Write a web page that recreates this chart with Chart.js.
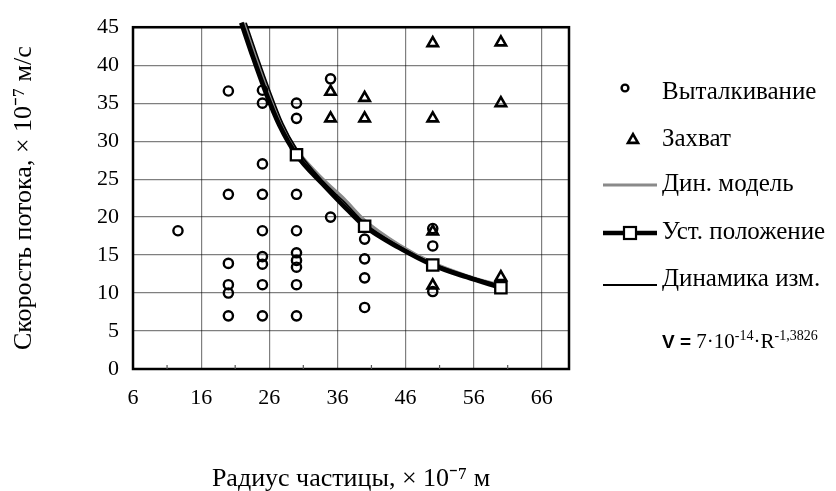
<!DOCTYPE html>
<html><head><meta charset="utf-8">
<script src="https://cdn.jsdelivr.net/npm/chart.js@4/dist/chart.umd.min.js"></script>
<style>html,body{margin:0;padding:0;background:#fff}#wrap{width:836px;height:491px}</style>
</head><body><div id="wrap"><canvas id="c" width="836" height="491"></canvas></div>
<script>
// ---- axis ticks ----
const xTicks = [6, 16, 26, 36, 46, 56, 66];
const xMinorTicks = [11, 21, 31, 41, 51, 61];
const yTicks = [0, 5, 10, 15, 20, 25, 30, 35, 40, 45];

// ---- Выталкивание (circles) ----
const pushX = [12.6, 20, 20, 20, 20, 20, 20, 25, 25, 25, 25, 25, 25, 25, 25, 25, 30, 30, 30, 30, 30, 30, 30, 30, 30, 35, 35, 40, 40, 40, 40, 50, 50, 50];
const pushY = [18.2, 36.6, 23.0, 13.9, 11.1, 10.0, 7.0, 36.7, 35.0, 27.0, 23.0, 18.2, 14.8, 13.8, 11.1, 7.0, 35.0, 33.0, 23.0, 18.2, 15.3, 14.3, 13.4, 11.1, 7.0, 38.2, 20.0, 17.1, 14.5, 12.0, 8.1, 18.5, 16.2, 10.2];

// ---- Захват (triangles) ----
const captX = [35, 35, 40, 40, 50, 50, 50, 50, 60, 60, 60];
const captY = [36.5, 33.0, 35.7, 33.0, 42.9, 33.0, 18.1, 11.0, 43.0, 35.0, 12.1];

// ---- Уст. положение (thick line with squares) ----
const steadyX = [21.9, 23.6, 25.5, 27.5, 30, 33.8, 36.8, 40, 45, 50, 55, 60];
const steadyY = [45.6, 41.1, 36.4, 32.1, 28.2, 24.4, 21.6, 18.8, 16.0, 13.7, 12.1, 10.7];
const steadyMarked = [0, 0, 0, 0, 1, 0, 0, 1, 0, 1, 0, 1];

// ---- Дин. модель (grey line) ----
const modelX = [22.3, 24.0, 25.8, 27.8, 30, 34, 37, 40, 45, 50, 55, 60];
const modelY = [45.6, 41.1, 36.6, 32.3, 28.9, 24.9, 22.4, 19.6, 16.4, 14.0, 12.3, 11.0];

// ---- Динамика изм. (thin black line) ----
const measX = [22.6, 24.3, 26.1, 28.0, 30, 34, 37, 40, 45, 50, 55, 60];
const measY = [45.6, 41.1, 36.6, 32.3, 29.0, 24.6, 22.0, 19.2, 16.2, 13.9, 12.3, 11.0];

const labels = ['Выталкивание', 'Захват', 'Дин. модель', 'Уст. положение', 'Динамика изм.'];
const yTitle = 'Скорость потока, × 10\u207B\u2077 м/с';
const xTitle = 'Радиус частицы, × 10\u207B\u2077 м';
const formula = ['V = ', '7·10', '-14', '·R', '-1,3826'];

const pts = (xs, ys) => xs.map((x, i) => ({x: x, y: ys[i]}));
const SERIF = '"Liberation Serif", "Times New Roman", serif';

const framePlugin = {
  id: 'frame',
  beforeDatasetsDraw(chart) {
    const {ctx, chartArea: a, scales} = chart;
    ctx.save();
    ctx.strokeStyle = '#000';
    ctx.lineWidth = 2.5;
    ctx.strokeRect(a.left, a.top, a.right - a.left, a.bottom - a.top);
    ctx.lineWidth = 1.2;
    ctx.strokeStyle = '#555';
    xMinorTicks.forEach(v => {
      const px = scales.x.getPixelForValue(v);
      ctx.beginPath(); ctx.moveTo(px, a.bottom); ctx.lineTo(px, a.bottom - 4); ctx.stroke();
    });
    ctx.restore();
  }
};

const legendPlugin = {
  id: 'customLegend',
  afterDraw(chart) {
    const ctx = chart.ctx;
    const ds = chart.data.datasets;
    const marks = [88, 140, 185, 233, 285];
    const texts = [92, 139, 184, 232, 279];
    const tx = 662;
    ctx.save();
    ctx.fillStyle = '#000';
    ctx.strokeStyle = '#000';
    ctx.textBaseline = 'middle';
    ctx.textAlign = 'left';
    ctx.font = '25px ' + SERIF;
    // circle
    ctx.lineWidth = 2.4;
    ctx.beginPath(); ctx.arc(625, marks[0], 3.4, 0, Math.PI * 2); ctx.stroke();
    ctx.fillText(ds[0].label, tx, texts[0]);
    // triangle
    ctx.beginPath();
    const r = 5.8;
    ctx.moveTo(633, marks[1] - r);
    ctx.lineTo(633 + r * 0.866, marks[1] + r / 2);
    ctx.lineTo(633 - r * 0.866, marks[1] + r / 2);
    ctx.closePath(); ctx.lineWidth = 2.6; ctx.stroke();
    ctx.fillText(ds[1].label, tx, texts[1]);
    // grey model line
    ctx.strokeStyle = '#8a8a8a'; ctx.lineWidth = 3;
    ctx.beginPath(); ctx.moveTo(603, marks[2]); ctx.lineTo(657, marks[2]); ctx.stroke();
    ctx.fillText(ds[2].label, tx, texts[2]);
    // steady line with square
    ctx.strokeStyle = '#000'; ctx.lineWidth = 4.5;
    ctx.beginPath(); ctx.moveTo(603, marks[3]); ctx.lineTo(657, marks[3]); ctx.stroke();
    ctx.fillStyle = '#fff'; ctx.lineWidth = 2.2;
    ctx.fillRect(624, marks[3] - 6, 12, 12); ctx.strokeRect(624, marks[3] - 6, 12, 12);
    ctx.fillStyle = '#000';
    ctx.fillText(ds[3].label, tx, texts[3]);
    // thin measured line
    ctx.lineWidth = 2;
    ctx.beginPath(); ctx.moveTo(603, marks[4]); ctx.lineTo(657, marks[4]); ctx.stroke();
    ctx.fillText(ds[4].label, tx, texts[4]);
    // formula
    ctx.textBaseline = 'alphabetic';
    let x = 662; const base = 348;
    ctx.font = 'bold 19px "Liberation Sans", Arial, sans-serif';
    ctx.fillText(formula[0], x, base); x += ctx.measureText(formula[0]).width;
    ctx.font = '21px ' + SERIF;
    ctx.fillText(formula[1], x, base); x += ctx.measureText(formula[1]).width;
    ctx.font = '14px ' + SERIF;
    ctx.fillText(formula[2], x, base - 8); x += ctx.measureText(formula[2]).width;
    ctx.font = '21px ' + SERIF;
    ctx.fillText(formula[3], x, base); x += ctx.measureText(formula[3]).width;
    ctx.font = '14px ' + SERIF;
    ctx.fillText(formula[4], x, base - 8);
    ctx.restore();
  }
};

const gridColor = 'rgba(0,0,0,0.5)';

new Chart(document.getElementById('c'), {
  type: 'scatter',
  data: {
    datasets: [
      {
        label: labels[0], data: pts(pushX, pushY),
        pointStyle: 'circle', pointRadius: 4.6, borderWidth: 2.4,
        borderColor: '#000', backgroundColor: 'rgba(0,0,0,0)', order: 1
      },
      {
        label: labels[1], data: pts(captX, captY),
        pointStyle: 'triangle', pointRadius: 6, borderWidth: 2.6,
        borderColor: '#000', backgroundColor: 'rgba(0,0,0,0)', order: 0
      },
      {
        label: labels[2], data: pts(modelX, modelY), showLine: true,
        borderColor: '#8a8a8a', borderWidth: 3, pointRadius: 0,
        cubicInterpolationMode: 'monotone', order: 4,
        clip: {left: 0, right: 0, top: 6, bottom: 0}
      },
      {
        label: labels[3], data: pts(steadyX, steadyY), showLine: true,
        borderColor: '#000', borderWidth: 4.8,
        pointStyle: 'rect',
        pointRadius: steadyMarked.map(m => m ? 8 : 0),
        pointBorderWidth: 2.3, pointBackgroundColor: '#fff', pointBorderColor: '#000',
        cubicInterpolationMode: 'monotone', order: 2,
        clip: {left: 0, right: 0, top: 6, bottom: 0}
      },
      {
        label: labels[4], data: pts(measX, measY), showLine: true,
        borderColor: '#000', borderWidth: 1.6, pointRadius: 0,
        cubicInterpolationMode: 'monotone', order: 3,
        clip: {left: 0, right: 0, top: 6, bottom: 0}
      }
    ]
  },
  options: {
    responsive: false,
    animation: false,
    devicePixelRatio: 1,
    layout: {padding: {top: 20, right: 267, left: 0, bottom: 0}},
    plugins: {legend: {display: false}, tooltip: {enabled: false}},
    scales: {
      x: {
        type: 'linear', min: 6, max: 70,
        afterBuildTicks: s => { s.ticks = xTicks.map(v => ({value: v})); },
        afterFit: s => { s.height = 122; },
        grid: {color: gridColor, lineWidth: 1.2, drawTicks: false},
        border: {display: false},
        ticks: {color: '#000', padding: 16, font: {family: SERIF, size: 22}},
        title: {display: true, text: xTitle, color: '#000', font: {family: SERIF, size: 26}, padding: {top: 0, bottom: -4}}
      },
      y: {
        type: 'linear', min: 0, max: 45,
        afterBuildTicks: s => { s.ticks = yTicks.map(v => ({value: v})); },
        afterFit: s => { s.width = 133; },
        grid: {color: gridColor, lineWidth: 1.2, drawTicks: false},
        border: {display: false},
        ticks: {color: '#000', padding: 14, font: {family: SERIF, size: 22}},
        title: {display: true, text: yTitle, color: '#000', font: {family: SERIF, size: 26}, padding: {top: 9, bottom: 0}}
      }
    }
  },
  plugins: [framePlugin, legendPlugin]
});
</script></body></html>
